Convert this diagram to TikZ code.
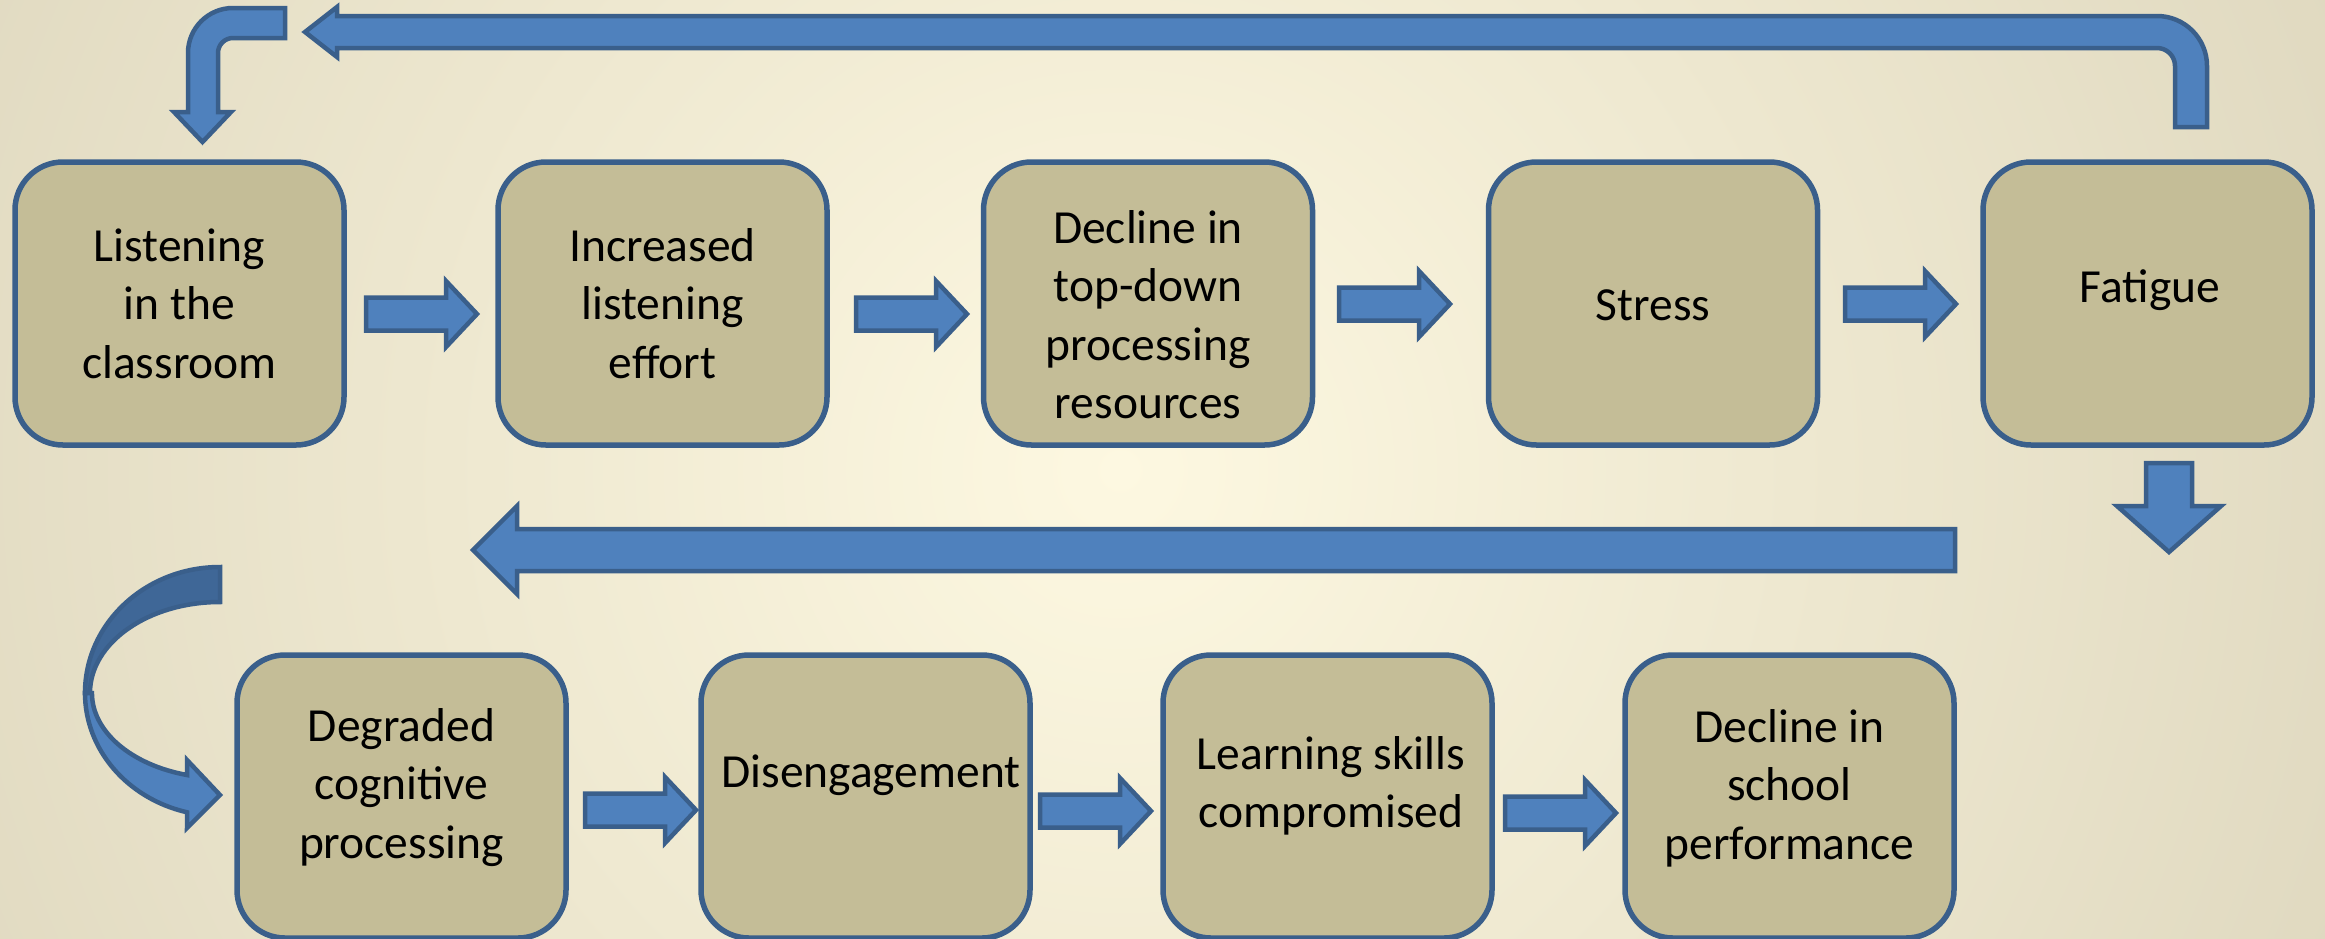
\documentclass[tikz,border=0pt]{standalone}
\usepackage{fontspec}
\setmainfont{Carlito}
\definecolor{bgin}{HTML}{FDF8E1}
\definecolor{bgout}{HTML}{DFD8BF}
\definecolor{boxfill}{HTML}{C4BD97}
\definecolor{bstroke}{HTML}{3A5F8B}
\definecolor{arrowfill}{HTML}{4F81BD}
\definecolor{arrowdark}{HTML}{3F6797}
\newcommand\RArrow[2]{%
  \draw[blk] (#1,#2-16.5) -- (#1+80,#2-16.5) -- (#1+80,#2-33) -- (#1+111,#2)
    -- (#1+80,#2+33) -- (#1+80,#2+16.5) -- (#1,#2+16.5) -- cycle;}
\begin{document}
\begin{tikzpicture}[x=1pt,y=-1pt,
  box/.style={draw=bstroke, line width=5.5pt, fill=boxfill, rounded corners=48pt,
    minimum width=329pt, minimum height=283pt, inner sep=0pt},
  lbl/.style={font=\fontsize{47.5}{58.5}\selectfont, align=center, inner sep=0pt, anchor=north, text=black},
  blk/.style={draw=bstroke, fill=arrowfill, line width=4.5pt, line join=miter}]
\useasboundingbox (0,0) rectangle (2325,938);
\begin{scope}
  \clip (0,0) rectangle (2325,938);
  \shade[inner color=bgin, outer color=bgout] (1120,470) circle[radius=1350];
\end{scope}

% boxes, row 1
\node[box] (b1) at (179.5,303.5) {};
\node[box] (b2) at (662.5,303.5) {};
\node[box] (b3) at (1148,303.5) {};
\node[box] (b4) at (1653,303.5) {};
\node[box] (b5) at (2147.5,303.5) {};
% boxes, row 2
\node[box] (b6) at (401.5,796.5) {};
\node[box] (b7) at (865.5,796.5) {};
\node[box] (b8) at (1327.5,796.5) {};
\node[box] (b9) at (1789.5,796.5) {};

% labels
\node[lbl] (t1) at (179.5,221) {\rule{0pt}{40pt}Listening\\in the\\classroom};
\node[lbl] (t2) at (662.5,221) {\rule{0pt}{40pt}Increased\\listening\\effort};
\node[lbl] (t3) at (1148,203) {\rule{0pt}{40pt}Decline in\\top-down\\processing\\resources};
\node[lbl] (t4) at (1653,280) {\rule{0pt}{40pt}Stress};
\node[lbl] (t5) at (2150,262) {\rule{0pt}{40pt}Fatigue};
\node[lbl] (t6) at (401.5,701) {\rule{0pt}{40pt}Degraded\\cognitive\\processing};
\node[lbl] (t7) at (871,747) {\rule{0pt}{40pt}Disengagement};
\node[lbl] (t8) at (1331,729) {\rule{0pt}{40pt}Learning skills\\compromised};
\node[lbl] (t9) at (1789.5,702) {\rule{0pt}{40pt}Decline in\\school\\performance};

% small block arrows
\RArrow{366}{314}
\RArrow{856}{314}
\RArrow{1339}{304}
\RArrow{1845}{304}
\RArrow{585}{810}
\RArrow{1040}{811}
\RArrow{1505}{813}

% big return arrow (top)
\draw[blk] (2175,127) -- (2175,66) arc[start angle=0, end angle=-90, radius=18]
  -- (337,48) -- (337,57) -- (305,32) -- (337,7) -- (337,16) -- (2157,16)
  arc[start angle=-90, end angle=0, radius=50] -- (2207,127) -- cycle;
% bent arrow (top left)
\draw[blk] (285,8) -- (233,8) arc[start angle=-90, end angle=-180, radius=45]
  -- (188,112) -- (174,112) -- (202.5,142) -- (231,112) -- (218,112) -- (218,53)
  arc[start angle=180, end angle=270, radius=15] -- (285,38) -- cycle;
% down arrow
\draw[blk] (2146,463) -- (2192,463) -- (2192,506) -- (2221,506) -- (2169,552)
  -- (2117,506) -- (2146,506) -- cycle;
% long left arrow
\draw[blk] (1955,529) -- (517,529) -- (517,506) -- (473,550) -- (517,594)
  -- (517,571) -- (1955,571) -- cycle;
% curved arrow (left)
\draw[blk, fill=arrowdark] (220,567) arc[start angle=270, end angle=180, x radius=135, y radius=126]
  -- (90,693) arc[start angle=180, end angle=270, x radius=130, y radius=91] -- cycle;
\draw[blk] (85,693) arc[start angle=180, end angle=104.1, x radius=135, y radius=123]
  -- (187,828) -- (220,795) -- (187,760) -- (187,775)
  arc[start angle=105.6, end angle=180, x radius=130, y radius=85] -- cycle;
\end{tikzpicture}
\end{document}
